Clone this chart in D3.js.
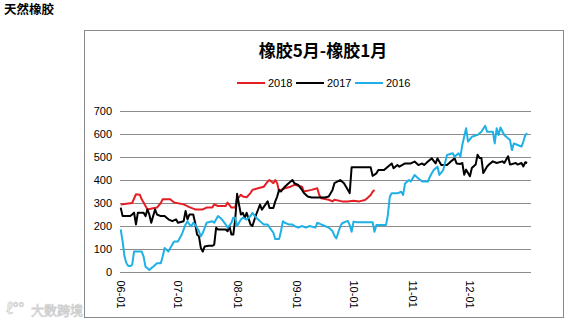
<!DOCTYPE html>
<html>
<head>
<meta charset="utf-8">
<script src="https://cdn.jsdelivr.net/npm/d3@7"></script>
<style>
  html, body { margin: 0; padding: 0; background: #fff; }
  svg { display: block; }
  text { font-family: "Liberation Sans", Arial, sans-serif; }
</style>
</head>
<body>
<svg id="chart" width="584" height="322"></svg>
<script>
// Spread between May and January rubber contracts, by calendar day (MM-DD)
const seriesNames = ["2018", "2017", "2016"];
const seriesColors = ["#e41e24", "#000000", "#1fb0e6"];

const dates2018 = ["06-01","06-04","06-07","06-09","06-11","06-12","06-13","06-15","06-18","06-20","06-22","06-23","06-27","06-28","06-29","07-04","07-07","07-10","07-14","07-16","07-19","07-20","07-22","07-26","07-27","07-29","07-31","08-01","08-02","08-03","08-04","08-06","08-08","08-09","08-12","08-15","08-17","08-18","08-20","08-21","08-22","08-23","08-24","08-26","08-29","08-31","09-04","09-05","09-09","09-12","09-13","09-14","09-18","09-20","09-21","09-25","09-28","10-01","10-04","10-07","10-08","10-10","10-11","10-12"];
const values2018 = [293,297,300,338,336,316,302,272,277,280,300,316,316,309,302,294,282,272,272,280,280,294,287,287,302,280,280,322,325,336,328,325,343,357,364,371,393,400,386,400,386,350,357,364,371,379,371,350,357,364,336,321,314,307,314,307,307,310,307,313,320,335,349,357];

const dates2017 = ["06-01","06-02","06-06","06-07","06-08","06-09","06-10","06-13","06-14","06-15","06-16","06-17","06-18","06-19","06-20","06-22","06-24","06-26","06-28","06-30","07-01","07-04","07-05","07-06","07-07","07-09","07-10","07-11","07-12","07-13","07-14","07-15","07-17","07-19","07-20","07-21","07-22","07-26","07-27","07-28","07-29","07-30","07-31","08-01","08-02","08-03","08-04","08-05","08-06","08-08","08-09","08-11","08-13","08-14","08-17","08-18","08-20","08-21","08-22","08-23","08-24","08-26","08-28","08-30","08-31","09-02","09-04","09-05","09-07","09-09","09-16","09-18","09-20","09-21","09-24","09-26","09-29","09-30","10-10","10-11","10-13","10-14","10-17","10-19","10-21","10-22","10-24","10-25","10-28","10-31","11-02","11-04","11-06","11-07","11-09","11-11","11-13","11-14","11-16","11-19","11-21","11-23","11-24","11-26","11-27","11-28","11-29","12-01","12-02","12-04","12-05","12-06","12-07","12-08","12-10","12-11","12-13","12-15","12-18","12-19","12-21","12-22","12-25","12-26","12-28","12-29","12-30","12-31"];
const values2017 = [280,243,243,250,258,207,258,258,243,272,250,214,243,272,250,243,243,229,221,229,214,221,265,229,250,250,214,163,155,104,89,111,114,114,119,192,185,185,177,199,163,163,229,340,293,250,257,236,257,207,200,250,293,271,307,278,278,307,328,357,350,371,386,400,386,379,357,343,328,324,324,328,357,386,400,386,343,455,455,418,429,443,443,458,472,451,465,458,472,472,480,465,472,465,480,494,472,494,465,465,480,494,472,470,474,423,445,416,452,467,510,496,496,430,459,467,481,474,481,474,503,467,474,467,474,459,477,474];

const dates2016 = ["06-01","06-02","06-03","06-04","06-05","06-06","06-07","06-08","06-12","06-13","06-14","06-15","06-16","06-17","06-18","06-20","06-22","06-23","06-24","06-26","06-27","06-28","06-29","07-01","07-03","07-04","07-05","07-06","07-07","07-08","07-09","07-10","07-11","07-12","07-13","07-14","07-15","07-16","07-19","07-20","07-22","07-24","07-26","07-27","07-29","07-30","07-31","08-01","08-03","08-04","08-06","08-08","08-09","08-11","08-13","08-15","08-17","08-18","08-20","08-21","08-23","08-24","08-25","08-26","08-28","08-30","08-31","09-02","09-04","09-06","09-08","09-11","09-12","09-14","09-16","09-18","09-20","09-21","09-22","09-24","09-25","09-28","09-29","09-30","10-01","10-03","10-07","10-11","10-12","10-13","10-15","10-18","10-19","10-20","10-21","10-24","10-26","10-27","10-28","10-30","10-31","11-02","11-04","11-06","11-09","11-10","11-12","11-14","11-15","11-17","11-19","11-22","11-23","11-25","11-26","11-27","11-29","11-30","12-02","12-05","12-07","12-09","12-10","12-13","12-14","12-15","12-16","12-17","12-19","12-20","12-22","12-23","12-24","12-26","12-28","12-29","12-30","12-31"];
const values2016 = [185,133,67,38,26,26,31,89,89,67,23,16,9,16,23,38,38,67,104,89,104,119,133,133,163,185,207,221,207,199,214,207,192,177,155,170,192,214,221,214,243,229,207,192,214,236,236,200,228,236,228,243,257,236,221,207,207,193,171,143,143,178,221,214,207,207,200,193,200,193,200,193,214,207,200,193,178,157,146,197,212,222,204,175,219,216,216,216,175,204,204,204,248,327,342,342,349,335,385,400,393,422,407,393,393,414,443,458,422,443,509,516,501,516,501,552,625,567,588,596,610,636,610,610,559,625,596,628,596,588,574,530,559,552,545,567,596,603];

const yTicks = [0, 100, 200, 300, 400, 500, 600, 700];
const xTickLabels = ["06-01","07-01","08-01","09-01","10-01","11-01","12-01"];

const toDate = s => {
  const [m, d] = s.split("-").map(Number);
  return new Date(m < 6 ? 2001 : 2000, m - 1, d);
};

const series = [
  { name: seriesNames[0], color: seriesColors[0], dates: dates2018, values: values2018 },
  { name: seriesNames[1], color: seriesColors[1], dates: dates2017, values: values2017 },
  { name: seriesNames[2], color: seriesColors[2], dates: dates2016, values: values2016 }
].map(s => ({ ...s, points: s.dates.map((d, i) => ({ date: toDate(d), value: s.values[i] })) }));

const svg = d3.select("#chart");

// page heading
svg.append("text")
  .attr("x", 4).attr("y", 14)
  .style("font-family", "'Noto Sans CJK SC', sans-serif")
  .style("font-size", "12.5px").style("font-weight", "bold")
  .text("天然橡胶");

// chart frame
svg.append("rect")
  .attr("x", 84.5).attr("y", 30.5).attr("width", 479).attr("height", 287)
  .attr("fill", "#fff").attr("stroke", "#8a8a8a").attr("stroke-width", 1);

// title
svg.append("text")
  .attr("x", 323).attr("y", 57).attr("text-anchor", "middle")
  .style("font-family", "'Noto Sans CJK SC', sans-serif")
  .style("font-size", "17px").style("font-weight", "bold")
  .text("橡胶5月-橡胶1月");

const x = d3.scaleTime()
  .domain([new Date(2000, 5, 1), new Date(2001, 0, 2)])
  .range([120.7, 531]);
const y = d3.scaleLinear().domain([0, 700]).range([272, 111]);

// horizontal gridlines
svg.append("g").selectAll("line").data(yTicks.filter(v => v > 0)).join("line")
  .attr("x1", 120).attr("x2", 531)
  .attr("y1", d => Math.round(y(d)) + 0.5).attr("y2", d => Math.round(y(d)) + 0.5)
  .attr("stroke", "#8c8c8c").attr("stroke-width", 1);

// y axis labels
const yAxis = d3.axisLeft(y).tickValues(yTicks).tickSize(0).tickPadding(8);
const gy = svg.append("g").attr("transform", "translate(120,0)").call(yAxis);
gy.select(".domain").remove();
gy.selectAll("text").style("font-size", "11px").attr("fill", "#000");

// x axis line and rotated date labels
const xAxis = d3.axisBottom(x)
  .tickValues(xTickLabels.map(toDate))
  .tickFormat(d3.timeFormat("%m-%d"))
  .tickSize(0);
const gx = svg.append("g").attr("transform", `translate(0,${Math.round(y(0)) + 0.5})`).call(xAxis);
gx.select(".domain").attr("d", "M120,0H531").attr("stroke", "#8c8c8c");
gx.selectAll("text")
  .style("font-size", "11px").attr("fill", "#000")
  .attr("text-anchor", "start")
  .attr("dy", null)
  .attr("y", 0)
  .attr("transform", "translate(-4,8) rotate(90)");

// series lines
const line = d3.line().x(d => x(d.date)).y(d => y(d.value));
svg.append("g").selectAll("path").data(series).join("path")
  .attr("d", d => line(d.points))
  .attr("fill", "none")
  .attr("stroke", d => d.color)
  .attr("stroke-width", 2)
  .attr("stroke-linejoin", "round");

// legend
const legendX = [237, 296, 355];
const lg = svg.append("g").selectAll("g").data(series).join("g")
  .attr("transform", (d, i) => `translate(${legendX[i]},83)`);
lg.append("line").attr("x1", 0).attr("x2", 28).attr("y1", 0).attr("y2", 0)
  .attr("stroke", d => d.color).attr("stroke-width", 2);
lg.append("text").attr("x", 31).attr("y", 4)
  .style("font-size", "11px").text(d => d.name);

// source mark
svg.append("text")
  .attr("x", 6).attr("y", 314)
  .style("font-family", "'Noto Sans CJK SC', sans-serif")
  .style("font-size", "15px")
  .attr("fill", "none").attr("stroke", "#d4d4d4").attr("stroke-width", 0.8)
  .text("ℓ°°");
svg.append("text")
  .attr("x", 31).attr("y", 315)
  .style("font-family", "'Noto Sans CJK SC', sans-serif")
  .style("font-size", "13px")
  .attr("fill", "none").attr("stroke", "#cfcfcf").attr("stroke-width", 0.8)
  .text("大数跨境");
</script>
</body>
</html>
